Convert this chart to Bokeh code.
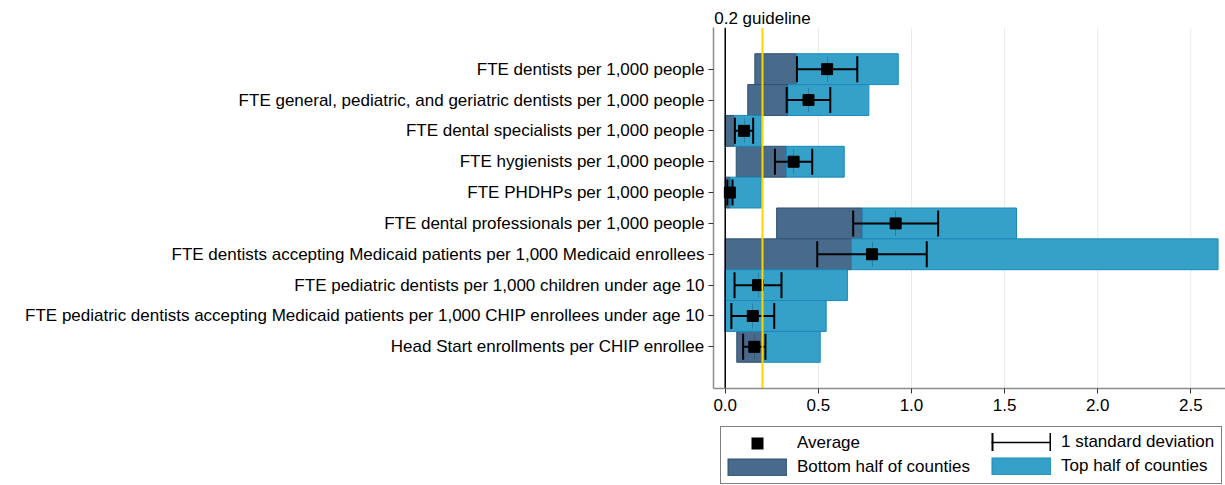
import math
from bokeh.plotting import figure
from bokeh.models import (ColumnDataSource, Range1d, FixedTicker, LinearAxis,
                          Legend, LegendItem)
from bokeh.embed import file_html
from bokeh.resources import INLINE

categories = [
    "FTE dentists per 1,000 people",
    "FTE general, pediatric, and geriatric dentists per 1,000 people",
    "FTE dental specialists per 1,000 people",
    "FTE hygienists per 1,000 people",
    "FTE PHDHPs per 1,000 people",
    "FTE dental professionals per 1,000 people",
    "FTE dentists accepting Medicaid patients per 1,000 Medicaid enrollees",
    "FTE pediatric dentists per 1,000 children under age 10",
    "FTE pediatric dentists accepting Medicaid patients per 1,000 CHIP enrollees under age 10",
    "Head Start enrollments per CHIP enrollee",
]
county_min = [0.159, 0.121, 0.0, 0.059, 0.0, 0.276, 0.0, 0.0, 0.0, 0.062]
county_median = [0.383, 0.338, 0.048, 0.329, 0.028, 0.736, 0.678, 0.0, 0.0, 0.199]
county_max = [0.929, 0.771, 0.193, 0.639, 0.193, 1.564, 2.646, 0.656, 0.542, 0.510]
average = [0.547, 0.447, 0.101, 0.367, 0.025, 0.915, 0.788, 0.176, 0.148, 0.156]
std_dev = [0.162, 0.117, 0.049, 0.100, 0.014, 0.228, 0.294, 0.126, 0.115, 0.060]
x_ticks = [0.0, 0.5, 1.0, 1.5, 2.0, 2.5]
x_tick_labels = ["0.0", "0.5", "1.0", "1.5", "2.0", "2.5"]
guideline = 0.2
guideline_label = "0.2 guideline"

FONT = "Liberation Sans"
FS = "17px"
DARK = "#486a8b"
DARK_LINE = "#2f5172"
LIGHT = "#35a1c9"
LIGHT_LINE = "#1a8abb"

# vertical extent of the plotting region (category units) and of the legend strip below it
Y_TOP = -0.35
Y_AXIS = 11.35
Y_BOTTOM = 14.494

pos = list(range(1, len(categories) + 1))
src = ColumnDataSource(dict(
    y=pos, cmin=county_min, cmed=county_median, cmax=county_max, avg=average,
    lo=[m - s for m, s in zip(average, std_dev)],
    hi=[m + s for m, s in zip(average, std_dev)],
))

p = figure(width=1225, height=485, output_backend="svg", toolbar_location=None,
           x_range=Range1d(-0.063, 2.686), y_range=Range1d(Y_BOTTOM, Y_TOP),
           min_border_left=713, min_border_right=0, min_border_top=27, min_border_bottom=0)
p.outline_line_color = None
p.background_fill_color = "white"
p.xgrid.visible = False
p.ygrid.visible = False

# vertical grid lines (limited to the plotting region)
n_t = len(x_ticks)
p.segment(x0=x_ticks, y0=[Y_TOP] * n_t, x1=x_ticks, y1=[Y_AXIS] * n_t,
          line_color="#e4edf0", line_width=1)

# bars
p.hbar(y="y", left="cmin", right="cmed", height=1.0, source=src,
       fill_color=DARK, line_color=DARK_LINE, line_width=1)
p.hbar(y="y", left="cmed", right="cmax", height=1.0, source=src,
       fill_color=LIGHT, line_color=LIGHT_LINE, line_width=1)

# whiskers
p.segment(x0="lo", y0="y", x1="hi", y1="y", source=src, line_color="black", line_width=2)
p.scatter(x="lo", y="y", source=src, marker="dash", size=26, angle=math.pi / 2,
          line_color="black", line_width=2)
p.scatter(x="hi", y="y", source=src, marker="dash", size=26, angle=math.pi / 2,
          line_color="black", line_width=2)
# means
p.scatter(x="avg", y="y", source=src, marker="square", size=11,
          fill_color="black", line_color="black", line_width=1)

# zero line and guideline
p.segment(x0=[0.0], y0=[Y_TOP], x1=[0.0], y1=[Y_AXIS], line_color="black", line_width=1.5)
p.segment(x0=[guideline], y0=[Y_TOP], x1=[guideline], y1=[Y_AXIS],
          line_color="#ffd400", line_width=2)

# axes
p.xaxis.fixed_location = Y_AXIS
p.xaxis.ticker = FixedTicker(ticks=x_ticks)
p.xaxis.major_label_overrides = dict(zip(x_ticks, x_tick_labels))
p.yaxis.ticker = FixedTicker(ticks=pos)
p.yaxis.major_label_overrides = dict(zip(pos, categories))
p.yaxis.bounds = (Y_TOP, Y_AXIS)
for ax in (p.xaxis[0], p.yaxis[0]):
    ax.axis_line_color = "#8c8c8c"
    ax.axis_line_width = 1.5
    ax.major_tick_line_color = "#333333"
    ax.major_tick_line_width = 1
    ax.major_tick_out = 5
    ax.major_tick_in = 0
    ax.minor_tick_line_color = None
    ax.major_label_text_font = FONT
    ax.major_label_text_font_size = FS
    ax.major_label_text_color = "black"
p.xaxis.major_label_standoff = 6
p.yaxis.major_label_standoff = 4

top_axis = LinearAxis(ticker=FixedTicker(ticks=[guideline]),
                      major_label_overrides={guideline: guideline_label},
                      axis_line_color=None, major_tick_line_color=None,
                      minor_tick_line_color=None, major_label_standoff=0,
                      major_tick_out=0, major_tick_in=0,
                      major_label_text_font=FONT, major_label_text_font_size=FS,
                      major_label_text_color="black")
p.add_layout(top_axis, "above")

# legend sample renderers (zero-length segments, visible only in the legend)
def dummy(**kw):
    return p.segment(x0="avg", y0="y", x1="avg", y1="y", source=src, **kw)

leg_avg = dummy(line_color="black", line_width=12, line_dash="0 24 12 100")
leg_sd_line = dummy(line_color="black", line_width=1.5)
leg_sd_caps = dummy(line_color="black", line_width=25, line_dash="2 56 2 100")
leg_bot_o = dummy(line_color=DARK_LINE, line_width=18)
leg_bot_f = dummy(line_color=DARK, line_width=16, line_dash="0 1 58 100")
leg_top_o = dummy(line_color=LIGHT_LINE, line_width=18)
leg_top_f = dummy(line_color=LIGHT, line_width=16, line_dash="0 1 58 100")

common = dict(orientation="vertical", glyph_width=60, glyph_height=18, label_height=20,
              label_standoff=10, padding=6, spacing=4, margin=0,
              label_text_font=FONT, label_text_font_size=FS, label_text_color="black")

legend_a = Legend(items=[LegendItem(label="Average", renderers=[leg_avg]),
                         LegendItem(label="Bottom half of counties", renderers=[leg_bot_o, leg_bot_f])],
                  location=(7, 1), label_width=418,
                  border_line_color="black", border_line_width=1,
                  background_fill_color="white", background_fill_alpha=1, **common)
legend_b = Legend(items=[LegendItem(label="1 standard deviation", renderers=[leg_sd_line, leg_sd_caps]),
                         LegendItem(label="Top half of counties", renderers=[leg_top_o, leg_top_f])],
                  location=(278, 9), border_line_color=None,
                  background_fill_alpha=0, **common)
p.add_layout(legend_a)
p.add_layout(legend_b)

open("out.html", "w").write(file_html(p, INLINE))
